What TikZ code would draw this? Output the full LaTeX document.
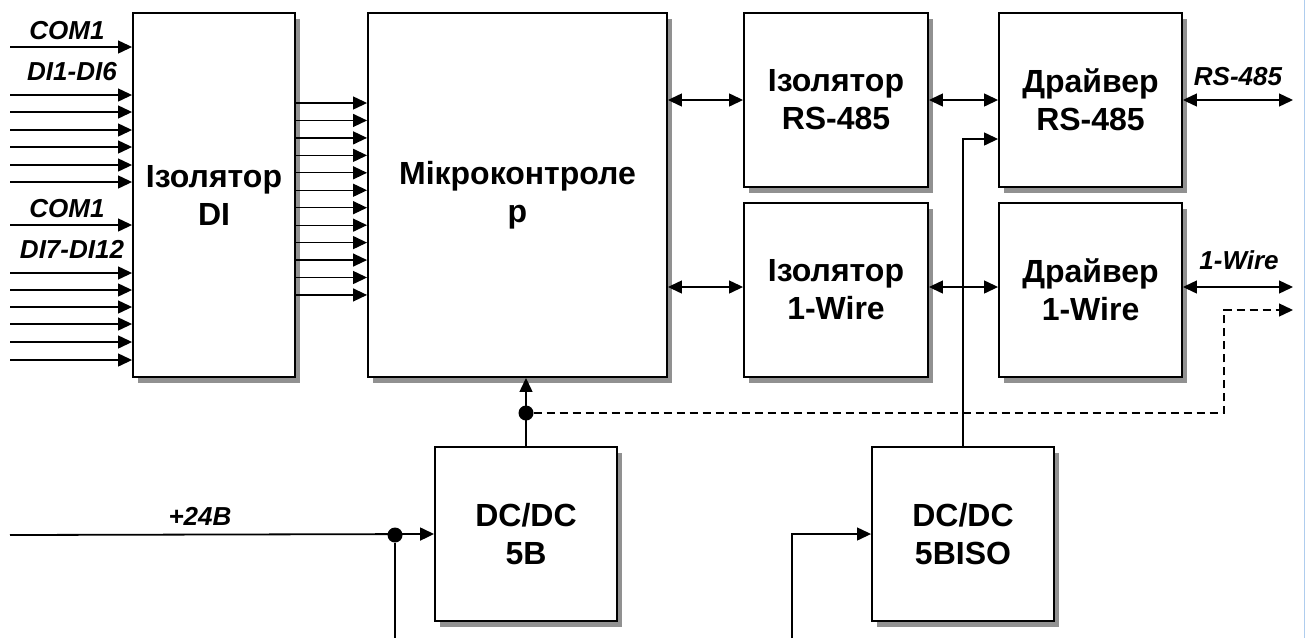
\documentclass[tikz,border=0pt]{standalone}
\usepackage{fontspec}
\setmainfont{Liberation Sans}
\usepackage{tikz}
\usetikzlibrary{arrows.meta,shadows}
\definecolor{shadc}{RGB}{145,145,145}
\definecolor{inkc}{RGB}{0,0,0}
\definecolor{edgec}{RGB}{175,205,238}

\tikzset{
  block/.style={draw=inkc, line width=1.9pt, fill=white, inner sep=0pt,
    align=center, font=\fontsize{32}{38}\selectfont\bfseries,
    drop shadow={shadow xshift=5pt, shadow yshift=-6pt, fill=shadc, opacity=1}},
  sig/.style={->, line width=1.3pt},
  bus/.style={<->, line width=1.3pt},
  dsh/.style={->, line width=1.3pt, dash pattern=on 8pt off 5pt},
  lbl/.style={anchor=base, inner sep=0pt, font=\fontsize{26}{31}\selectfont\bfseries\itshape},
  junc/.style={circle, fill=inkc, inner sep=0pt, minimum size=15pt}
}

\begin{document}
\begin{tikzpicture}[x=1pt, y=-1pt, >={Triangle[length=14pt, width=13pt]}, line cap=butt]
  % page frame: 1306 x 638, y runs downwards
  \useasboundingbox (0,0) rectangle (1306,638);
  \draw[edgec, line width=1pt] (1304,0) -- (1304,638);

  % blocks
  \node[block, minimum width=162pt, minimum height=364pt] (isodi) at (214,195)
    {Ізолятор\\DI};
  \node[block, minimum width=299pt, minimum height=364pt] (mcu) at (517.5,195)
    {Мікроконтроле\\р};
  \node[block, minimum width=184pt, minimum height=174pt] (isors) at (836,100)
    {Ізолятор\\RS-485};
  \node[block, minimum width=184pt, minimum height=174pt] (isow) at (836,290)
    {Ізолятор\\1-Wire};
  \node[block, minimum width=183pt, minimum height=174pt] (drvrs) at (1090.5,100)
    {Драйвер\\RS-485};
  \node[block, minimum width=183pt, minimum height=174pt] (drvw) at (1090.5,290)
    {Драйвер\\1-Wire};
  \node[block, minimum width=182pt, minimum height=174pt] (dcfive) at (526,534)
    {DC/DC\\5В};
  \node[block, minimum width=182pt, minimum height=174pt] (dciso) at (963,534)
    {DC/DC\\5ВISO};

  % discrete inputs
  \coordinate (coma) at (10,47);
  \coordinate (comb) at (10,225);
  \draw[sig] (coma) -- (coma -| isodi.west);
  \draw[sig] (comb) -- (comb -| isodi.west);
  \foreach \yy [count=\i] in {95,112,130,147,165,182,273,290,307,324,342,360} {
    \coordinate (din\i) at (10,\yy);
    \draw[sig] (din\i) -- (din\i -| isodi.west);
  }
  \node[lbl] (lblcoma) at (67,39) {COM1};
  \node[lbl] (lbldia) at (72,80) {DI1-DI6};
  \node[lbl] (lblcomb) at (67,217) {COM1};
  \node[lbl] (lbldib) at (72,258) {DI7-DI12};

  % isolated lines into the controller
  \foreach \k in {0,...,11} {
    \pgfmathsetmacro\yy{103+17.45*\k}
    \coordinate (lv) at (0,\yy);
    \draw[sig] (isodi.east |- lv) -- (mcu.west |- lv);
  }

  % interfaces
  \coordinate (wbus) at (0,287);
  \draw[bus] (mcu.east |- isors.west) -- (isors.west);
  \draw[bus] (mcu.east |- wbus) -- (isow.west |- wbus);
  \draw[bus] (isors.east) -- (drvrs.west);
  \draw[bus] (isow.east |- wbus) -- (drvw.west |- wbus);
  \coordinate (rsout) at (1293,100);
  \coordinate (wout) at (1293,287);
  \draw[bus] (drvrs.east) -- (rsout);
  \draw[bus] (drvw.east |- wout) -- (wout);
  \node[lbl] (lblrs) at (1238,85) {RS-485};
  \node[lbl] (lblw) at (1239,269) {1-Wire};

  % power: +24 V and the two converters
  \coordinate (pin) at (10,535);
  \coordinate (pbot) at (395,638);
  \coordinate (isobot) at (792,638);
  \draw[sig, line width=1.8pt] (pin) -- (dcfive.west);
  \node[junc] (pdot) at (395,535) {};
  \draw[line width=1.3pt] (pdot) -- (pbot);
  \draw[sig] (isobot) |- (dciso.west);
  \node[lbl] (lblpw) at (200,525) {+24В};

  % 5 V rail up to the controller, dashed branch to the 1-Wire side
  \draw[sig] (dcfive.north) -- (dcfive.north |- mcu.south);
  \node[junc] (jdot) at (526,413) {};
  \coordinate (dcorner) at (1224,310);
  \coordinate (dashend) at (1293,310);
  \draw[dsh] (jdot) -| (dcorner) -- (dashend);

  % isolated 5 V into the RS-485 driver
  \coordinate (rsfeed) at (0,139);
  \draw[sig] (dciso.north) |- (drvrs.west |- rsfeed);
\end{tikzpicture}
\end{document}
